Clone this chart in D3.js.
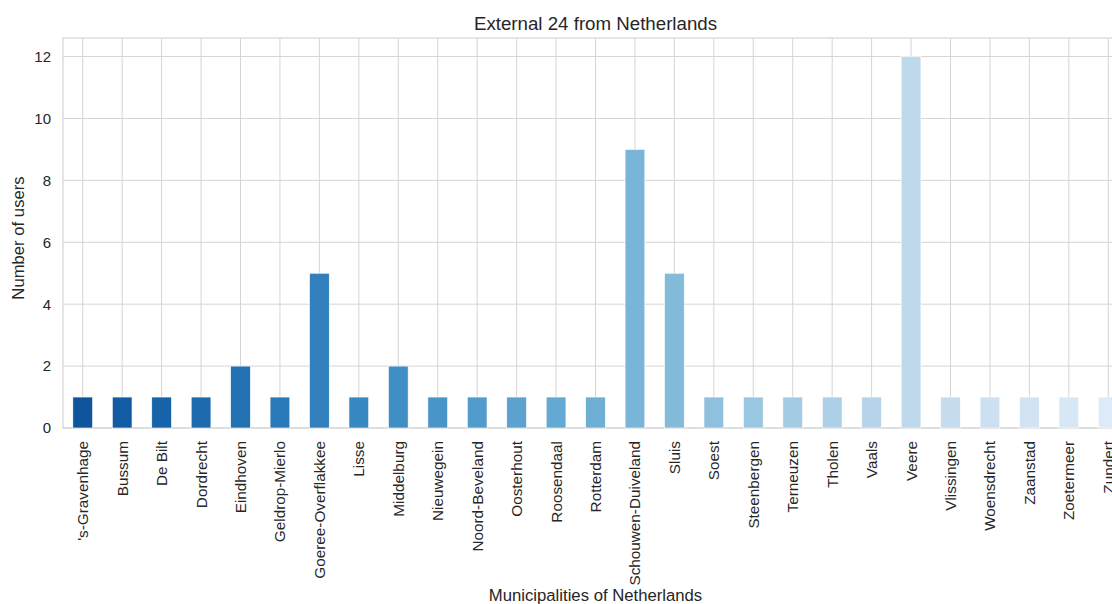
<!DOCTYPE html>
<html>
<head>
<meta charset="utf-8">
<script src="https://cdn.jsdelivr.net/npm/d3@7"></script>
<style>
body{margin:0;background:#fff;overflow:hidden;}
text{font-family:"Liberation Sans",Arial,sans-serif;fill:#262626;}
</style>
</head>
<body>
<svg id="c" width="1112" height="604"></svg>
<script>
const categories = ["'s-Gravenhage","Bussum","De Bilt","Dordrecht","Eindhoven","Geldrop-Mierlo","Goeree-Overflakkee","Lisse","Middelburg","Nieuwegein","Noord-Beveland","Oosterhout","Roosendaal","Rotterdam","Schouwen-Duiveland","Sluis","Soest","Steenbergen","Terneuzen","Tholen","Vaals","Veere","Vlissingen","Woensdrecht","Zaanstad","Zoetermeer","Zundert"];
const users = [1,1,1,1,2,1,5,1,2,1,1,1,1,1,9,5,1,1,1,1,1,12,1,1,1,1,1];
const yTicks = [0,2,4,6,8,10,12];
const title = "External 24 from Netherlands";
const xLabel = "Municipalities of Netherlands";
const yLabel = "Number of users";

const L = 63, R = 1128, T = 38, B = 428;
const svg = d3.select("#c");
const x = d3.scaleBand().domain(categories).range([L, R]).paddingInner(0.5).paddingOuter(0.25);
const y = d3.scaleLinear().domain([0, 12.6]).range([B, T]);
const color = i => d3.interpolateBlues(0.86 - i * (0.73 / (categories.length - 1)));

const g = svg.append("g");
g.selectAll(".hg").data(yTicks).join("line")
  .attr("x1", L).attr("x2", R).attr("y1", d => y(d)).attr("y2", d => y(d))
  .attr("stroke", "#d5d5d5").attr("stroke-width", 1);
g.selectAll(".vg").data(categories).join("line")
  .attr("x1", d => x(d) + x.bandwidth()/2).attr("x2", d => x(d) + x.bandwidth()/2)
  .attr("y1", T).attr("y2", B)
  .attr("stroke", "#d5d5d5").attr("stroke-width", 1);
g.append("rect").attr("x", L).attr("y", T).attr("width", R - L).attr("height", B - T)
  .attr("fill", "none").attr("stroke", "#d5d5d5").attr("stroke-width", 1.2);

g.selectAll(".bar").data(users).join("rect")
  .attr("x", (d, i) => x(categories[i]))
  .attr("width", x.bandwidth())
  .attr("y", d => y(d))
  .attr("height", d => y(0) - y(d))
  .attr("fill", (d, i) => color(i))
  .attr("stroke", "#ffffff").attr("stroke-width", 0.6);

svg.append("g").selectAll("text").data(yTicks).join("text")
  .attr("x", 51).attr("y", d => y(d)).attr("dy", "0.36em")
  .attr("text-anchor", "end").attr("font-size", 15).text(d => d);

svg.append("g").selectAll("text").data(categories).join("text")
  .attr("transform", d => `translate(${x(d) + x.bandwidth()/2},441) rotate(-90)`)
  .attr("text-anchor", "end").attr("dy", "0.36em").attr("font-size", 15.3).text(d => d);

svg.append("text").attr("x", (L + R) / 2).attr("y", 30).attr("text-anchor", "middle")
  .attr("font-size", 18.7).text(title);
svg.append("text").attr("x", (L + R) / 2).attr("y", 601).attr("text-anchor", "middle")
  .attr("font-size", 16.7).text(xLabel);
svg.append("text").attr("transform", `translate(24,238) rotate(-90)`).attr("text-anchor", "middle")
  .attr("font-size", 16.7).text(yLabel);
</script>
</body>
</html>
